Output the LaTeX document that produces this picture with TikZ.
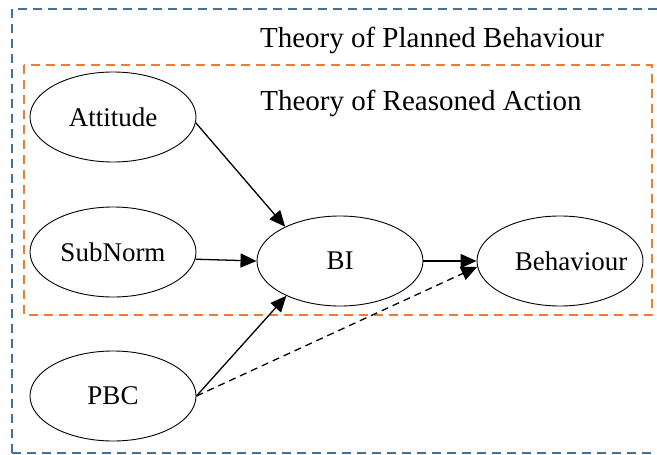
\documentclass[tikz,border=0pt]{standalone}
\usepackage{fontspec}
\setmainfont{Liberation Serif}
\usetikzlibrary{shapes.geometric,arrows.meta}

\definecolor{tpbblue}{RGB}{65,113,156}
\definecolor{traorange}{RGB}{237,125,49}

\tikzset{
  construct/.style={ellipse, draw=black, line width=0.9pt, minimum width=166pt,
    minimum height=90pt, inner sep=0pt, font=\fontsize{27}{30}\selectfont},
  frame/.style={line width=2.6pt, dash pattern=on 9pt off 6pt},
  title/.style={font=\fontsize{29}{32}\selectfont, inner sep=0pt},
  link/.style={line width=1.3pt, -{Triangle[length=16pt,width=14pt]}},
  weaklink/.style={link, dash pattern=on 7pt off 5pt}
}

\begin{document}
\begin{tikzpicture}[x=1pt, y=-1pt]
  \useasboundingbox (0,0) rectangle (657,455);
  \fill[white] (0,0) rectangle (657,455);

  % outer frame: planned behaviour
  \draw[frame, tpbblue] (12,453) -- (12,9) -- (665,9);
  \draw[frame, tpbblue] (12,453) -- (665,453);
  % inner frame: reasoned action
  \draw[frame, traorange] (24,65) rectangle (652,315);

  \node[title] (tpb) at (432,40) {Theory of Planned Behaviour};
  \node[title] (tra) at (421,103) {Theory of Reasoned Action};

  \node[construct] (att) at (113,117) {Attitude};
  \node[construct] (sn)  at (113,252) {SubNorm};
  \node[construct] (pbc) at (113,396) {PBC};
  \node[construct] (bi)  at (340,261) {BI};
  \node[construct, label={[xshift=11pt, font=\fontsize{27}{30}\selectfont]center:Behaviour}] (beh) at (560,261) {};

  \draw[link] (att.-4) -- (bi.148);
  \draw[link] (sn.-5) -- (bi.west);
  \draw[link] (pbc.east) -- (bi.213);
  \draw[link] (bi.east) -- (beh.west);
  \draw[weaklink] (pbc.east) -- (beh.184);
\end{tikzpicture}
\end{document}
